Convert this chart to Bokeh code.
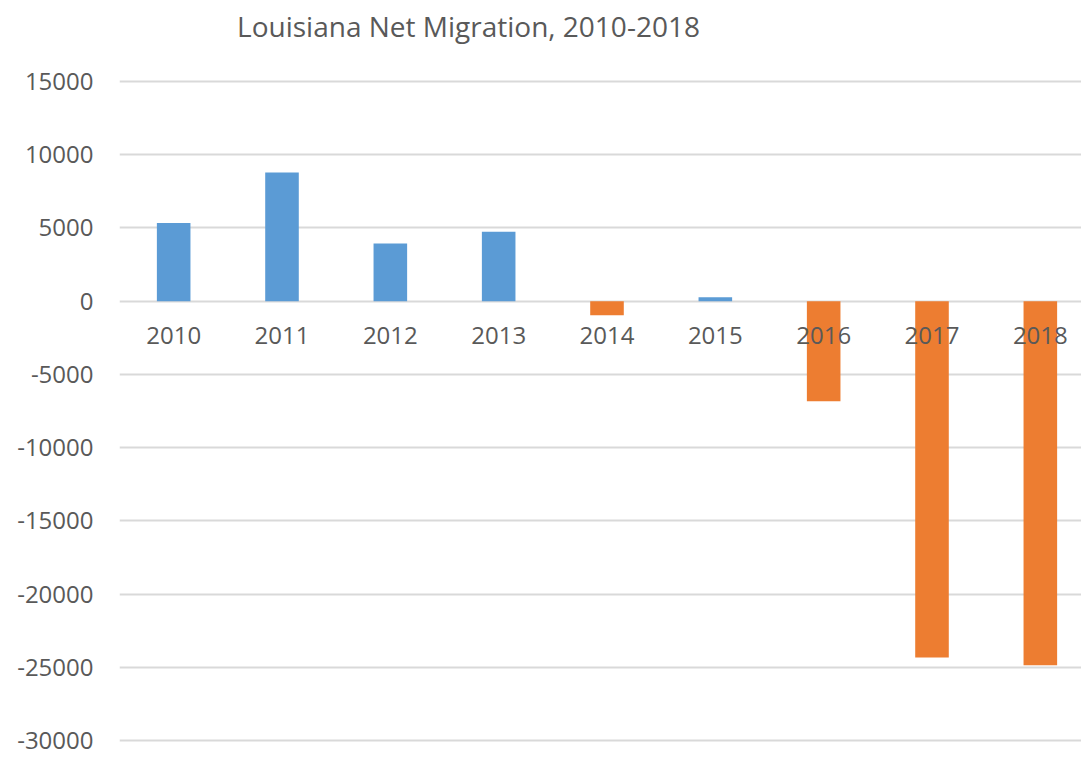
from bokeh.plotting import figure
from bokeh.models import FixedTicker, NumeralTickFormatter, Range1d, ColumnDataSource, Label
from bokeh.embed import file_html
from bokeh.resources import INLINE

title_text = "Louisiana Net Migration, 2010-2018"
years = [2010, 2011, 2012, 2013, 2014, 2015, 2016, 2017, 2018]
net_migration = [5340, 8780, 3930, 4740, -970, 260, -6840, -24330, -24870]
y_ticks = [-30000, -25000, -20000, -15000, -10000, -5000, 0, 5000, 10000, 15000]

BLUE = "#5B9BD5"
ORANGE = "#ED7D31"
TEXT = "#595959"
FONT = "Open Sans"

colors = [BLUE if v >= 0 else ORANGE for v in net_migration]
src = ColumnDataSource(dict(x=years, top=net_migration, color=colors))

X0, X1 = 2009.5, 2018.38
Y0, Y1 = -30275, 20531

p = figure(width=1081, height=758, output_backend="svg", toolbar_location=None,
           x_range=Range1d(X0, X1), y_range=Range1d(Y0, Y1),
           min_border_left=119, min_border_right=0, min_border_top=0, min_border_bottom=14)
p.outline_line_color = None

p.vbar(x="x", top="top", bottom=0, width=0.31, fill_color="color", line_color=None, source=src)

# title placed in the empty top band of the frame (frame is 962 x 744 px)
title = Label(x=X0 + (X1 - X0) * 349 / 962, y=Y1 - (Y1 - Y0) * 25 / 744, text=title_text,
              text_align="center", text_baseline="middle", text_font=FONT,
              text_font_size="28px", text_color=TEXT)
p.add_layout(title)

p.yaxis.ticker = FixedTicker(ticks=y_ticks)
p.yaxis.formatter = NumeralTickFormatter(format="0")
p.yaxis.axis_line_color = None
p.yaxis.major_tick_line_color = None
p.yaxis.minor_tick_line_color = None
p.yaxis.major_label_text_font = FONT
p.yaxis.major_label_text_font_size = "24px"
p.yaxis.major_label_text_color = TEXT
p.yaxis.major_label_standoff = 20

p.xaxis.ticker = FixedTicker(ticks=years)
p.xaxis.major_label_overrides = {y: str(y) for y in years}
p.xaxis.fixed_location = 0
p.xaxis.axis_line_color = None
p.xaxis.major_tick_line_color = None
p.xaxis.minor_tick_line_color = None
p.xaxis.major_label_text_font = FONT
p.xaxis.major_label_text_font_size = "24px"
p.xaxis.major_label_text_color = TEXT
p.xaxis.major_label_standoff = 20

p.xgrid.grid_line_color = None
p.ygrid.ticker = FixedTicker(ticks=y_ticks)
p.ygrid.grid_line_color = "#D9D9D9"
p.ygrid.grid_line_width = 2

open("out.html", "w").write(file_html(p, INLINE))
